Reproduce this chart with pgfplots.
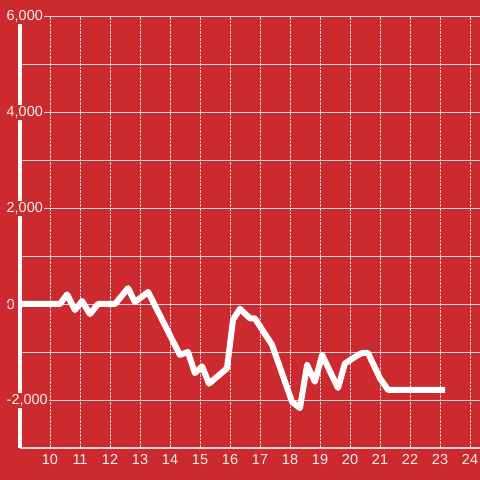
\documentclass[border=0pt]{standalone}
\usepackage{pgfplots}
\pgfplotsset{compat=1.18}
\usepackage{fontspec}
\setmainfont{Liberation Sans}
\definecolor{bg}{RGB}{204,42,46}
\definecolor{gridc}{RGB}{215,215,215}
\definecolor{txt}{RGB}{240,240,240}

\pgfplotstableread{
x y
9.00 0
10.33 0
10.57 200
10.83 -125
11.07 60
11.33 -210
11.60 0
12.17 0
12.60 330
12.83 40
13.27 250
14.33 -1060
14.60 -1000
14.83 -1440
15.07 -1300
15.30 -1660
15.90 -1340
16.10 -330
16.33 -100
16.67 -300
16.83 -300
17.40 -850
18.07 -2040
18.33 -2170
18.57 -1270
18.83 -1620
19.07 -1060
19.60 -1750
19.83 -1240
20.17 -1100
20.40 -1020
20.60 -1020
21.00 -1550
21.27 -1790
23.17 -1790
}\balance

\begin{document}
\begin{tikzpicture}
\path[use as bounding box] (0,0) rectangle (480bp,480bp);
\fill[bg] (0,0) rectangle (480bp,480bp);
\begin{axis}[
    at={(20bp,32bp)}, anchor=south west,
    scale only axis,
    width=460bp, height=432bp,
    xmin=9, xmax=24.333,
    ymin=-3000, ymax=6000,
    xtick={10,...,24},
    ytick={-2000,0,2000,4000,6000},
    minor ytick={-1000,1000,3000,5000},
    xmajorgrids, ymajorgrids, yminorgrids,
    x grid style={gridc, densely dotted, line width=0.8bp},
    y grid style={gridc, line width=0.8bp},
    minor y grid style={gridc, line width=0.8bp},
    extra y ticks={0},
    extra y tick labels={},
    extra y tick style={grid=major, major grid style={white!95!gray, line width=3.2bp}},
    axis x line=bottom, axis y line=left,
    axis line style={-, white!95!gray, line width=3bp},
    x axis line style={gridc, line width=1.3bp},
    major tick length=0pt, minor tick length=0pt,
    /pgf/number format/assume math mode=true,
    /pgf/number format/1000 sep={,},
    tick label style={text=txt, font=\fontsize{14.5}{16}\selectfont},
    yticklabel style={anchor=west, xshift=-15bp, yshift=-0.5bp, fill=bg, inner sep=1.5bp},
    xticklabel style={yshift=-3bp},
]
\addplot[white, line width=6bp, line join=round] table[x=x, y=y] {\balance};
\end{axis}
\end{tikzpicture}
\end{document}
